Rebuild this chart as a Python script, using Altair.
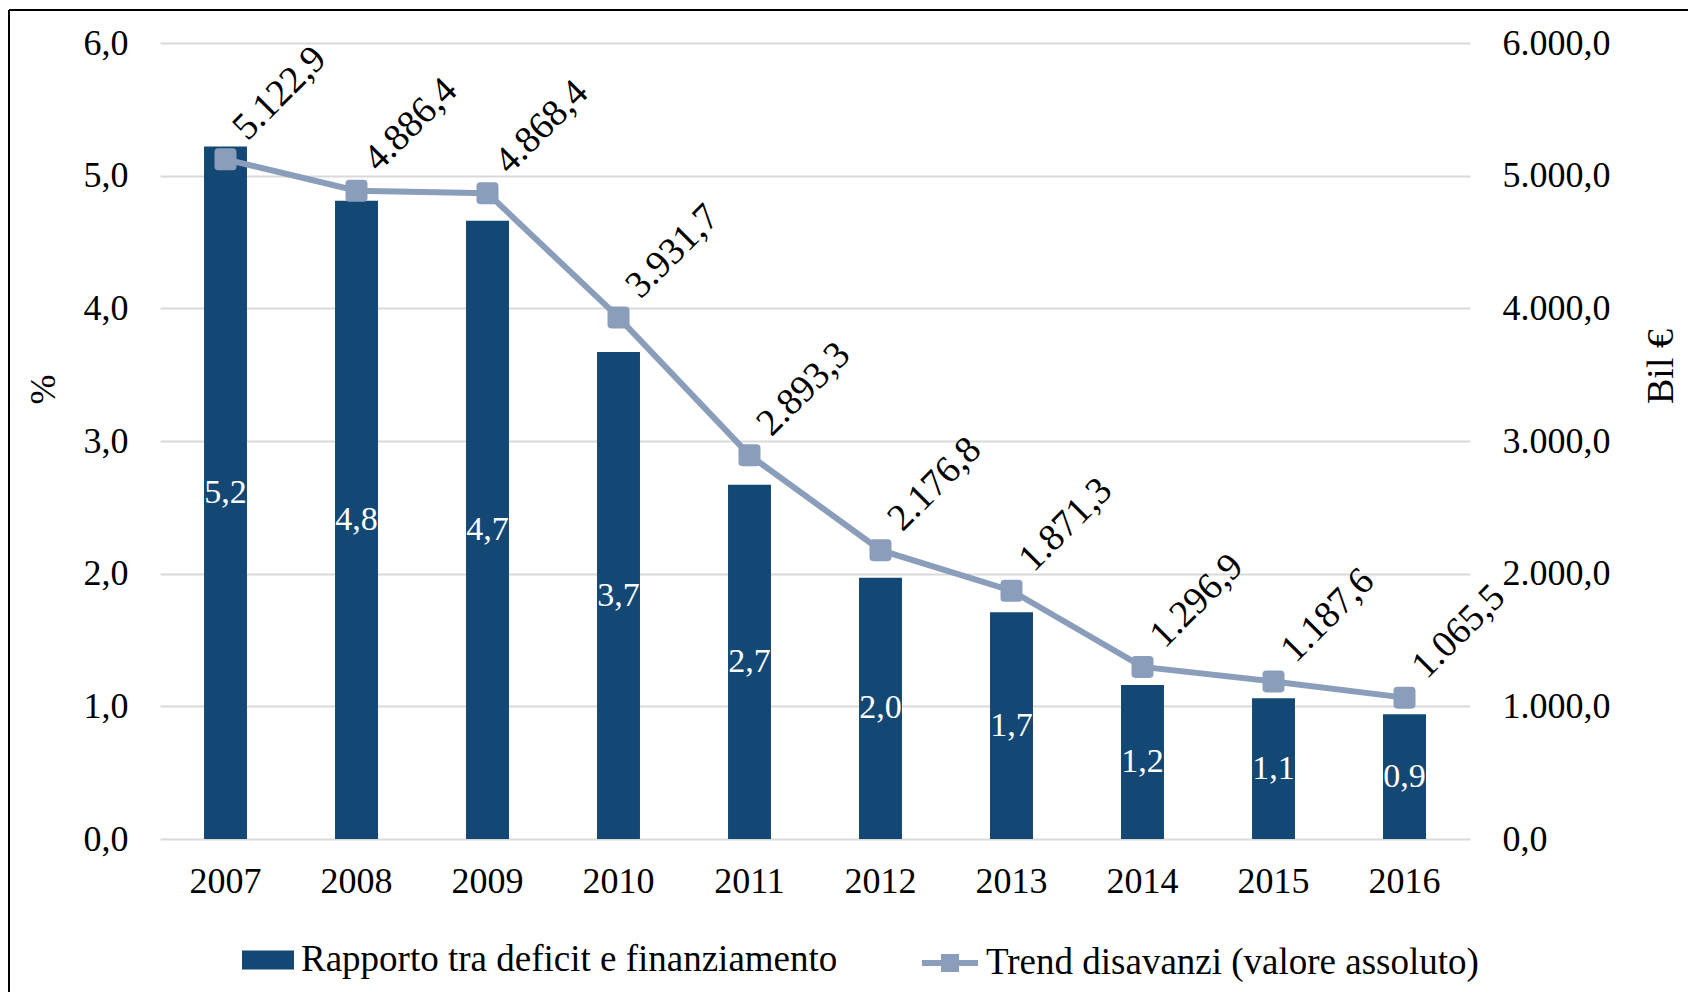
import altair as alt
import pandas as pd

years = ["2007", "2008", "2009", "2010", "2011", "2012", "2013", "2014", "2015", "2016"]
ratio = [5.22, 4.81, 4.66, 3.67, 2.67, 1.97, 1.71, 1.16, 1.06, 0.94]
deficit = [5122.9, 4886.4, 4868.4, 3931.7, 2893.3, 2176.8, 1871.3, 1296.9, 1187.6, 1065.5]
left_ticks = [0, 1, 2, 3, 4, 5, 6]
right_ticks = [0, 1000, 2000, 3000, 4000, 5000, 6000]
bar_name = "Rapporto tra deficit e finanziamento"
line_name = "Trend disavanzi (valore assoluto)"

df = pd.DataFrame({"year": years, "ratio": ratio, "deficit": deficit})
df["ratio_mid"] = df["ratio"] / 2
df["bar_series"] = bar_name
df["line_series"] = line_name

FONT = "Liberation Serif"
BAR = "#134875"
LINE = "#8a9ebb"
GRID = "#d9d9d9"

ROUNDSQ = "M-0.65,-1H0.65Q1,-1 1,-0.65V0.65Q1,1 0.65,1H-0.65Q-1,1 -1,0.65V-0.65Q-1,-1 -0.65,-1Z"
BAR_PATH = "M-1.3,-0.475H1.3V0.475H-1.3Z"
LINE_PATH = "M-1.4,0H1.4M-0.3,-0.3H0.3V0.3H-0.3ZM-0.1,-0.1H0.1V0.1H-0.1Z"

x = alt.X(
    "year:N", title=None, sort=years,
    scale=alt.Scale(paddingInner=0.672, paddingOuter=0.336),
    axis=alt.Axis(labelAngle=0, domain=False, ticks=False, labelPadding=25,
                  labelFontSize=36, labelFont=FONT, labelColor="black", grid=False),
)

left_axis = alt.Axis(
    values=left_ticks, format=",.1f", grid=True, gridColor=GRID, gridWidth=2,
    domain=False, ticks=False, tickSize=0, labelPadding=32, labelFontSize=36,
    labelFont=FONT, labelColor="black", titleFont=FONT, titleFontSize=36,
    titleFontWeight="normal", titleColor="black", titleX=-117, titleY=346,
    titleAngle=270, titleAlign="center", titleBaseline="middle",
)
left_scale = alt.Scale(domain=[0, 6], nice=False)

right_axis = alt.Axis(
    orient="right", values=right_ticks, format=",.1f", grid=False, domain=False,
    ticks=False, tickSize=0, labelPadding=32, labelFontSize=36, labelFont=FONT,
    labelColor="black", titleFont=FONT, titleFontSize=38, titleFontWeight="normal",
    titleColor="black", titleX=191, titleY=323, titleAngle=270,
    titleAlign="center", titleBaseline="middle",
)
right_scale = alt.Scale(domain=[0, 6000], nice=False)

bars = alt.Chart(df).mark_bar().encode(
    x=x,
    y=alt.Y("ratio:Q", title="%", scale=left_scale, axis=left_axis),
    fill=alt.Fill(
        "bar_series:N", scale=alt.Scale(domain=[bar_name], range=[BAR]),
        legend=alt.Legend(title=None, orient="none", legendX=88, legendY=897,
                          symbolType=BAR_PATH, symbolSize=1600, symbolStrokeWidth=0,
                          labelFont=FONT, labelFontSize=37, labelColor="black",
                          labelOffset=13, labelLimit=2000, padding=0),
    ),
)

bar_text = alt.Chart(df).mark_text(
    color="white", fontSize=34, font=FONT, baseline="middle", align="center"
).encode(
    x=x,
    y=alt.Y("ratio_mid:Q", title="%", scale=left_scale, axis=left_axis),
    text=alt.Text("ratio:Q", format=",.1f"),
)

line = alt.Chart(df).mark_line(strokeWidth=6).encode(
    x=x,
    y=alt.Y("deficit:Q", title="Bil €", scale=right_scale, axis=right_axis),
    stroke=alt.Stroke(
        "line_series:N", scale=alt.Scale(domain=[line_name], range=[LINE]),
        legend=alt.Legend(title=None, orient="none", legendX=767, legendY=897,
                          symbolType=LINE_PATH, symbolSize=1600, symbolStrokeWidth=6,
                          symbolFillColor=LINE, labelFont=FONT, labelFontSize=37,
                          labelColor="black", labelOffset=13, labelLimit=2000,
                          padding=0),
    ),
)

points = alt.Chart(df).mark_point(
    shape=ROUNDSQ, size=484, filled=True, color=LINE, opacity=1
).encode(
    x=x,
    y=alt.Y("deficit:Q", title="Bil €", scale=right_scale, axis=right_axis),
)

line_text = alt.Chart(df).mark_text(
    angle=315, align="left", baseline="alphabetic", dx=28, dy=3,
    fontSize=38, font=FONT, color="black",
).encode(
    x=x,
    y=alt.Y("deficit:Q", title="Bil €", scale=right_scale, axis=right_axis),
    text=alt.Text("deficit:Q", format=",.1f"),
)

border_left = alt.Chart(df).mark_rule(color="black", strokeWidth=2).encode(
    x=alt.value(-151), y=alt.value(-33), y2=alt.value(960)
)
border_top = alt.Chart(df).mark_rule(color="black", strokeWidth=2).encode(
    x=alt.value(-151), x2=alt.value(1540), y=alt.value(-33)
)

chart = alt.layer(
    alt.layer(bars, bar_text),
    alt.layer(line, points, line_text),
    border_left,
    border_top,
).resolve_scale(y="independent").properties(
    width=1310,
    height=796,
    padding={"left": 152, "top": 35, "right": 218, "bottom": 153},
    autosize=alt.AutoSizeParams(type="none"),
    background="white",
).configure(
    locale=alt.Locale(number=alt.NumberLocale(decimal=",", thousands=".", grouping=[3], currency=["", " €"])),
    font=FONT,
).configure_view(stroke=None)

chart.save("out.html", embed_options={"renderer": "svg", "actions": False})
